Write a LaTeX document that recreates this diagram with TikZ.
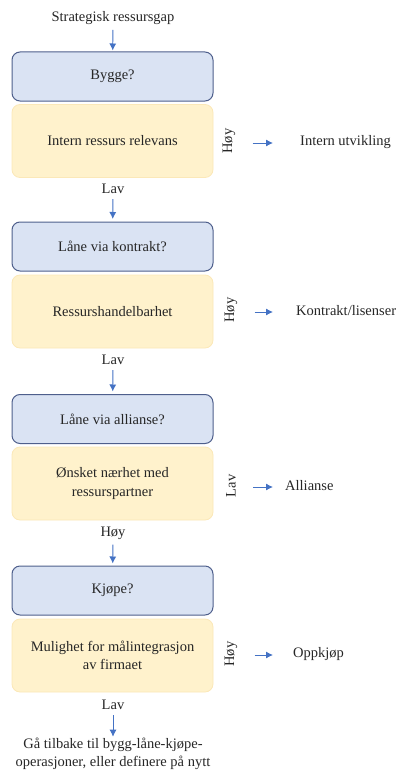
\documentclass[tikz,border=0pt]{standalone}
\usepackage{fontspec}
\setmainfont{Liberation Serif}
\usetikzlibrary{arrows.meta}
\definecolor{qfill}{HTML}{DAE3F3}
\definecolor{qdraw}{HTML}{4E5F8C}
\definecolor{efill}{HTML}{FFF2CC}
\definecolor{edraw}{HTML}{FBE8B8}
\definecolor{arrowblue}{HTML}{4472C4}
\begin{document}
\begin{tikzpicture}[x=1pt,y=-1pt,
  every node/.style={font=\fontsize{14.5}{18.5}\selectfont, text=black!85},
  qbox/.style={draw=qdraw, fill=qfill, line width=1pt, rounded corners=8pt,
    minimum width=201pt, minimum height=49pt, inner sep=0pt},
  ebox/.style={draw=edraw, fill=efill, line width=0.8pt, rounded corners=8pt,
    minimum width=201pt, minimum height=73pt, inner sep=0pt, align=center},
  lbl/.style={inner sep=1pt},
  side/.style={rotate=90, inner sep=1pt},
  res/.style={anchor=west, inner sep=0pt},
  arr/.style={draw=arrowblue, line width=0.9pt, -{Latex[length=7pt,width=7pt]}}
]
\useasboundingbox (0,0) rectangle (399,776);

% start
\node[lbl] (title) at (113,18) {Strategisk ressursgap};

% build
\node[qbox] (q1) at (112.5,76.5) {Bygge?};
\node[ebox] (e1) at (112.5,141) {Intern ressurs relevans};
\node[side] (h1) at (229,141) {Høy};
\coordinate (t1) at (273,143);
\node[res] (r1) at (300,142) {Intern utvikling};
\node[lbl] (l1) at (113,189) {Lav};

% borrow via contract
\node[qbox] (q2) at (112.5,246.5) {Låne via kontrakt?};
\node[ebox] (e2) at (112.5,311.5) {Ressurshandelbarhet};
\node[side] (h2) at (231,310) {Høy};
\coordinate (t2) at (273,312);
\node[res] (r2) at (296,311) {Kontrakt/lisenser};
\node[lbl] (l2) at (113,360) {Lav};

% borrow via alliance
\node[qbox] (q3) at (112.5,419) {Låne via allianse?};
\node[ebox] (e3) at (112.5,483.5) {Ønsket nærhet med\\ressurspartner};
\node[side] (h3) at (231,486) {Lav};
\coordinate (t3) at (273,487);
\node[res] (r3) at (285,486) {Allianse};
\node[lbl] (l3) at (113,533) {Høy};

% buy
\node[qbox] (q4) at (112.5,590.5) {Kjøpe?};
\node[ebox] (e4) at (112.5,655.5) {Mulighet for målintegrasjon\\av firmaet};
\node[side] (h4) at (231,654) {Høy};
\coordinate (t4) at (273,655);
\node[res] (r4) at (293,654) {Oppkjøp};
\node[lbl] (l4) at (113,705) {Lav};

\node[lbl, align=center] (fin) at (113,754) {Gå tilbake til bygg-låne-kjøpe-\\operasjoner, eller definere på nytt};

% vertical flow
\draw[arr, shorten <=4pt, shorten >=1pt] (title) -- (q1);
\draw[arr, shorten <=4pt, shorten >=2.5pt] (l1) -- (q2);
\draw[arr, shorten <=4pt, shorten >=2.5pt] (l2) -- (q3);
\draw[arr, shorten <=4pt, shorten >=2pt] (l3) -- (q4);
\draw[arr, shorten <=4pt, shorten >=0pt] (l4) -- (fin);

% outcomes
\draw[arr, shorten <=16pt] (h1.south |- t1) -- (t1);
\draw[arr, shorten <=16pt] (h2.south |- t2) -- (t2);
\draw[arr, shorten <=16pt] (h3.south |- t3) -- (t3);
\draw[arr, shorten <=16pt] (h4.south |- t4) -- (t4);
\end{tikzpicture}
\end{document}
